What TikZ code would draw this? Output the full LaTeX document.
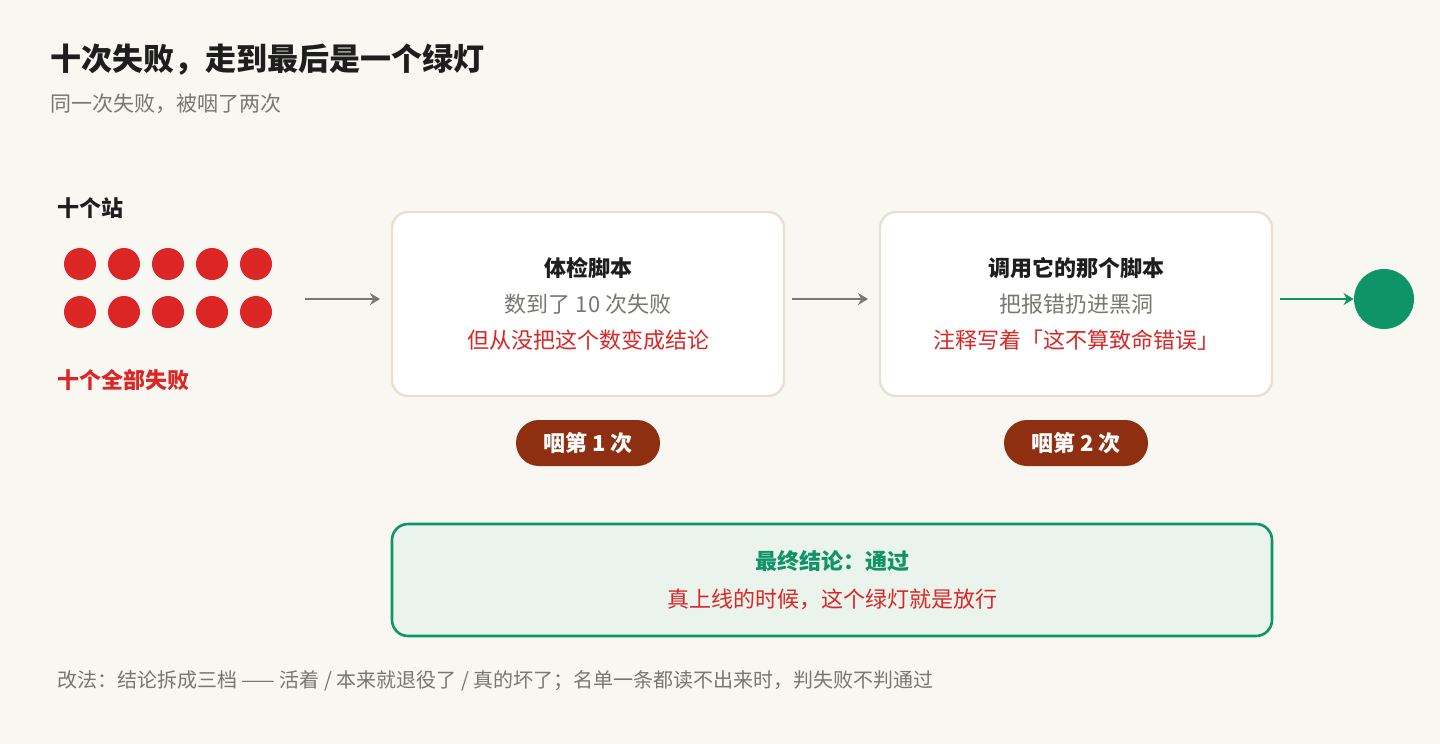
\documentclass[tikz,border=0pt]{standalone}
\usepackage{fontspec}
\usetikzlibrary{arrows.meta}
\setmainfont{Noto Sans CJK SC}
\definecolor{bg}{HTML}{F9F7F2}
\definecolor{frame}{HTML}{E8E1D3}
\definecolor{grey}{HTML}{7A7672}
\definecolor{redd}{HTML}{DC2626}
\definecolor{brown}{HTML}{8E2F12}
\definecolor{greenn}{HTML}{0E9466}
\definecolor{greenbg}{HTML}{EAF3EC}
\definecolor{ink}{HTML}{1E1E1E}
\begin{document}
\begin{tikzpicture}[x=0.5pt,y=-0.5pt]
  \tikzset{boite/.style={draw=frame, line width=1.2pt, fill=white, rounded corners=8pt},
    dot/.style={circle, fill=redd, minimum size=16pt, inner sep=0pt},
    pastille/.style={fill=brown, rounded corners=11.5pt, minimum width=72pt, minimum height=23pt, text=white, font=\bfseries\fontsize{11}{13}\selectfont},
    fleche/.style={-{Stealth[length=5pt,width=6pt]}, line width=1.3pt, draw=grey},
    txt/.style={font=\fontsize{11}{13}\selectfont, inner sep=0pt}};
  \fill[bg] (0,0) rectangle (1440,744);
  \node[anchor=west, inner sep=0pt, text=ink, font=\bfseries\fontsize{15.5}{18}\selectfont] (titre) at (50,60) {十次失败，走到最后是一个绿灯};
  \node[anchor=west, inner sep=0pt, text=grey, font=\fontsize{10.5}{12}\selectfont] (sous) at (50,104) {同一次失败，被咽了两次};
  \node[anchor=west, txt, text=ink, font=\bfseries\fontsize{11}{13}\selectfont] (stations) at (57,208) {十个站};
  \foreach \i [evaluate=\i as \x using 80+44*\i] in {0,...,4} {
    \node[dot] (h\i) at (\x,264) {};
    \node[dot] (b\i) at (\x,312) {};
  }
  \node[anchor=west, txt, text=redd, font=\bfseries\fontsize{11}{13}\selectfont] (echec) at (57,380) {十个全部失败};
  % boites
  \draw[boite] (392,212) rectangle (784,396);
  \coordinate (b1w) at (392,299); \coordinate (b1e) at (784,299);
  \node[txt, font=\bfseries\fontsize{11}{13}\selectfont, text=ink] (t1) at (588,268) {体检脚本};
  \node[txt, text=grey] (t1b) at (588,304) {数到了 10 次失败};
  \node[txt, text=redd] (t1c) at (588,340) {但从没把这个数变成结论};
  \draw[boite] (880,212) rectangle (1272,396);
  \coordinate (b2w) at (880,299); \coordinate (b2e) at (1272,299);
  \node[txt, font=\bfseries\fontsize{11}{13}\selectfont, text=ink] (t2) at (1076,268) {调用它的那个脚本};
  \node[txt, text=grey] (t2b) at (1076,304) {把报错扔进黑洞};
  \node[txt, text=redd] (t2c) at (1076,340) {注释写着「这不算致命错误」};
  \node[circle, fill=greenn, minimum size=30pt, inner sep=0pt] (vert) at (1384,299) {};
  \coordinate (a0) at (305,299);
  \draw[fleche] (a0) -- ([xshift=-6pt]b1w);
  \draw[fleche] ([xshift=4pt]b1e) -- ([xshift=-6pt]b2w);
  \draw[fleche, draw=greenn] ([xshift=4pt]b2e) -- (vert);
  \node[pastille] (p1) at (588,443) {咽第 1 次};
  \node[pastille] (p2) at (1076,443) {咽第 2 次};
  \draw[draw=greenn, line width=1.3pt, fill=greenbg, rounded corners=8pt] (392,524) rectangle (1272,636);
  \node[txt, text=greenn, font=\bfseries\fontsize{11}{13}\selectfont] (fin) at (832,561) {最终结论：通过};
  \node[txt, text=redd] (fin2) at (832,599) {真上线的时候，这个绿灯就是放行};
  \node[anchor=west, inner sep=0pt, text=grey, font=\fontsize{10}{12}\selectfont] (note) at (57,681) {改法：结论拆成三档 —— 活着 / 本来就退役了 / 真的坏了；名单一条都读不出来时，判失败不判通过};
\end{tikzpicture}
\end{document}
